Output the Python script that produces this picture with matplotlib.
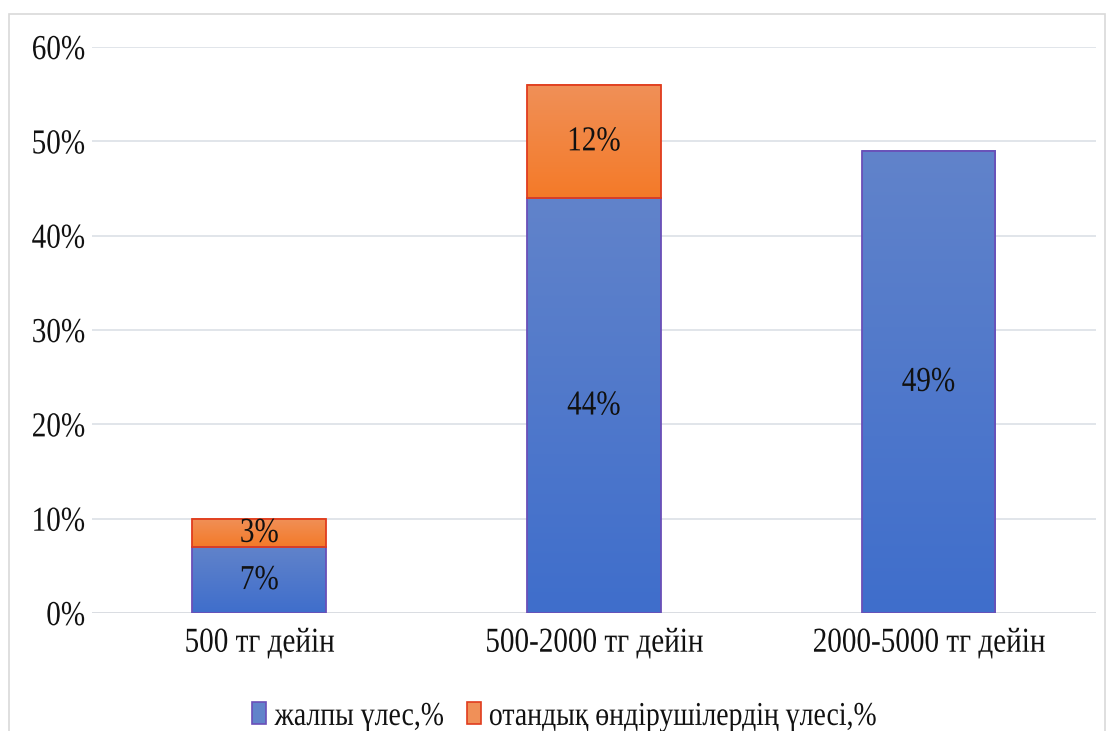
import numpy as np
import matplotlib.pyplot as plt
from matplotlib.patches import Rectangle
from matplotlib.colors import LinearSegmentedColormap
from matplotlib.patheffects import AbstractPathEffect
from matplotlib.transforms import Affine2D

plt.rcParams['font.family'] = ['Liberation Serif', 'DejaVu Serif']

categories = ["500 тг дейін", "500-2000 тг дейін", "2000-5000 тг дейін"]
total_share = [0.07, 0.44, 0.49]
local_share = [0.03, 0.12, 0.0]
series_names = ["жалпы үлес,%", "отандық өндірушілердің үлесі,%"]
yticks = [0, 0.1, 0.2, 0.3, 0.4, 0.5, 0.6]

blue_top, blue_bot, blue_edge = "#6183CA", "#3F6ECC", "#6A4FB8"
orange_top, orange_bot, orange_edge = "#F09058", "#F47A28", "#E03C1E"


class TallText(AbstractPathEffect):
    # the original font looks condensed, so stretch glyphs vertically
    def __init__(self, s=1.2, mid=35):
        super().__init__()
        self.pre = Affine2D().translate(0, -mid).scale(1, s).translate(0, mid)

    def draw_path(self, renderer, gc, tpath, affine, rgbFace=None):
        renderer.draw_path(gc, tpath, self.pre + affine, rgbFace)


tall = [TallText()]

fig = plt.figure(figsize=(11.08, 7.31), dpi=100)
ax = fig.add_axes([0.083, 0.1614, 0.906, 0.7743])

fig.patches.append(Rectangle((9 / 1108, -0.05), 1096 / 1108, 1 - 14 / 731 + 0.05,
                             transform=fig.transFigure, fill=False,
                             edgecolor="#D9D9D9", linewidth=1.2, zorder=0))

width = 0.4
x = np.arange(len(categories))


def gradient_bar(xc, bottom, height, top_color, bot_color, edge):
    if height <= 0:
        return
    cmap = LinearSegmentedColormap.from_list("g", [bot_color, top_color])
    grad = np.linspace(0, 1, 256).reshape(-1, 1)
    ax.imshow(grad, cmap=cmap, aspect="auto", origin="lower",
              extent=(xc - width / 2, xc + width / 2, bottom, bottom + height),
              zorder=2, interpolation="bilinear")
    ax.add_patch(Rectangle((xc - width / 2, bottom), width, height, fill=False,
                           edgecolor=edge, linewidth=1.3, zorder=3))


for i in range(len(categories)):
    gradient_bar(x[i], 0, total_share[i], blue_top, blue_bot, blue_edge)
    ax.text(x[i], total_share[i] / 2, f"{total_share[i] * 100:.0f}%",
            ha="center", va="center", fontsize=21, color="#111111", zorder=4,
            path_effects=tall)
    if local_share[i] > 0:
        gradient_bar(x[i], total_share[i], local_share[i], orange_top, orange_bot, orange_edge)
        ax.text(x[i], total_share[i] + local_share[i] / 2, f"{local_share[i] * 100:.0f}%",
                ha="center", va="center", fontsize=21, color="#111111", zorder=4,
                path_effects=tall)

ax.set_xlim(-0.5, 2.5)
ax.set_ylim(0, 0.6)
ax.set_yticks(yticks)
ax.set_yticklabels([f"{t * 100:.0f}%" for t in yticks])
ax.set_xticks(x)
ax.set_xticklabels(categories)
ax.tick_params(axis="both", length=0, labelsize=21, colors="#111111")
ax.tick_params(axis="y", pad=5)
ax.tick_params(axis="x", pad=12)
for lbl in ax.get_xticklabels() + ax.get_yticklabels():
    lbl.set_path_effects(tall)
ax.grid(axis="y", color="#E1E5EA", linewidth=1.4, zorder=0)
ax.set_axisbelow(True)
for s in ax.spines.values():
    s.set_visible(False)
ax.axhline(0, color="#DADDE2", linewidth=1.4, zorder=1)

handles = [Rectangle((0, 0), 1, 1, facecolor=blue_top, edgecolor=blue_edge, linewidth=1.2),
           Rectangle((0, 0), 1, 1, facecolor=orange_top, edgecolor=orange_edge, linewidth=1.2)]
leg = fig.legend(handles, series_names, loc="center", bbox_to_anchor=(0.51, 0.021),
                 ncol=2, frameon=False, fontsize=20, handlelength=0.5, handleheight=0.85,
                 handletextpad=0.3, columnspacing=0.8)
for t in leg.get_texts():
    t.set_path_effects(tall)
    t.set_color("#111111")

fig.savefig("out.png", dpi=100)
